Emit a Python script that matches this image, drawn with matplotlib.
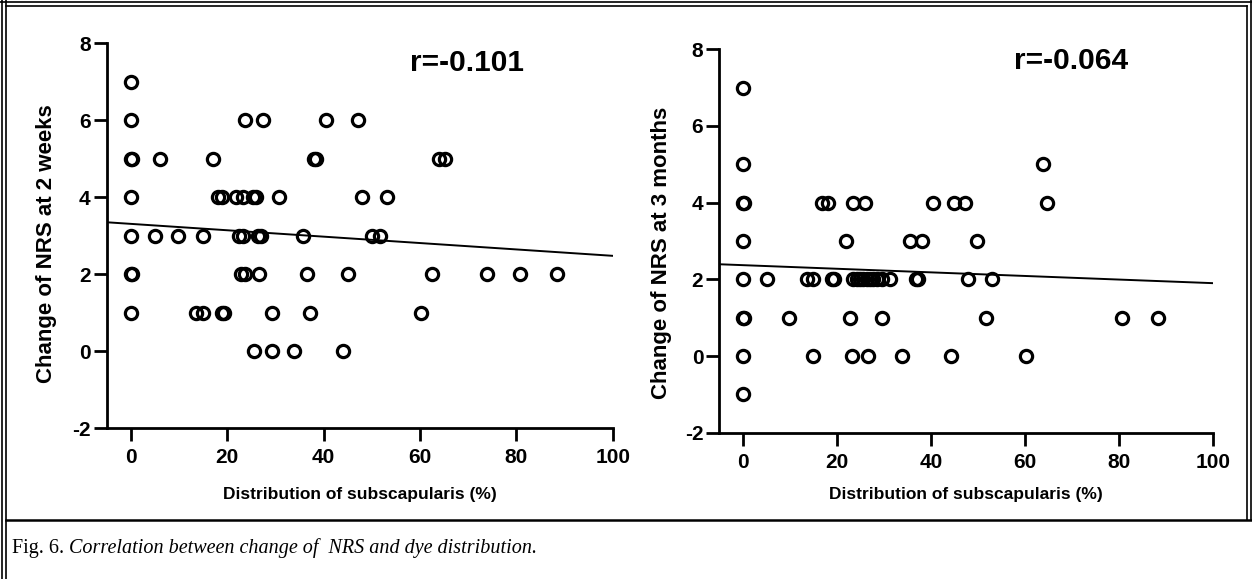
import matplotlib.pyplot as plt
from matplotlib.lines import Line2D

plt.rcParams['font.family'] = ['Liberation Sans', 'DejaVu Sans']
plt.rcParams['axes.unicode_minus'] = False

# panel A: change of NRS at 2 weeks vs distribution (%)
x_2wk = [0,
         0, 23.6, 27.4, 40.5, 47.2,
         0, 0.3, 6.1, 17.0, 38.0, 38.5, 64.0, 65.1,
         0, 18.0, 18.9, 21.8, 23.2, 25.3, 26.0, 30.8, 47.9, 53.1,
         0, 5.1, 9.8, 14.9, 22.4, 23.3, 26.3, 27.0, 35.7, 50.1, 51.8,
         0, 0.3, 22.9, 23.7, 26.7, 36.6, 45.0, 62.4, 73.9, 80.7, 88.5,
         0, 13.5, 14.9, 19.0, 19.4, 29.4, 37.2, 60.3,
         25.6, 29.4, 33.8, 44.1]
y_2wk = [7,
         6, 6, 6, 6, 6,
         5, 5, 5, 5, 5, 5, 5, 5,
         4, 4, 4, 4, 4, 4, 4, 4, 4, 4,
         3, 3, 3, 3, 3, 3, 3, 3, 3, 3, 3,
         2, 2, 2, 2, 2, 2, 2, 2, 2, 2, 2,
         1, 1, 1, 1, 1, 1, 1, 1,
         0, 0, 0, 0]

# panel B: change of NRS at 3 months vs distribution (%)
x_3mo = [0,
         0, 63.9,
         0, 0.3, 16.8, 18.2, 23.4, 26.0, 40.5, 44.9, 47.2, 64.7,
         0, 21.9, 35.6, 38.0, 49.7,
         0, 5.1, 13.6, 15.0, 18.9, 19.4, 23.5, 24.2, 24.9, 25.6, 26.3, 27.0,
         27.7, 28.5, 29.5, 31.2, 36.8, 37.2, 47.8, 53.0,
         0, 0.3, 9.9, 22.7, 29.5, 51.7, 80.5, 88.3,
         0, 15.0, 23.2, 26.7, 33.8, 44.2, 60.2,
         0]
y_3mo = [7,
         5, 5,
         4, 4, 4, 4, 4, 4, 4, 4, 4, 4,
         3, 3, 3, 3, 3,
         2, 2, 2, 2, 2, 2, 2, 2, 2, 2, 2, 2,
         2, 2, 2, 2, 2, 2, 2, 2,
         1, 1, 1, 1, 1, 1, 1, 1,
         0, 0, 0, 0, 0, 0, 0,
         -1]

# fitted lines (intercept, slope)
fit_2wk = (3.31, -0.0083)
fit_3mo = (2.37, -0.0047)

r_labels = ['r=-0.101', 'r=-0.064']
y_labels = ['Change of NRS at 2 weeks', 'Change of NRS at 3 months']
x_label = 'Distribution of subscapularis (%)'

fig = plt.figure(figsize=(12.52, 5.79), dpi=100)
W, H = 1252, 579

def px_axes(x0, x1, ytop, ybot):
    return fig.add_axes([x0 / W, 1 - ybot / H, (x1 - x0) / W, (ybot - ytop) / H])

ax1 = px_axes(106.7, 612.7, 43.3, 428.3)
ax2 = px_axes(719.3, 1213.3, 49.3, 432.7)

panels = [(ax1, x_2wk, y_2wk, fit_2wk), (ax2, x_3mo, y_3mo, fit_3mo)]
for i, (ax, xs, ys, fit) in enumerate(panels):
    ax.plot(xs, ys, 'o', ms=8.8, mfc='none', mec='black', mew=2.3, clip_on=False)
    xl = [-5, 100]
    ax.plot(xl, [fit[0] + fit[1] * v for v in xl], color='black', lw=1.4)
    ax.set_xlim(-5, 100)
    ax.set_ylim(-2, 8)
    ax.set_xticks([0, 20, 40, 60, 80, 100])
    ax.set_yticks([-2, 0, 2, 4, 6, 8])
    for s in ['top', 'right']:
        ax.spines[s].set_visible(False)
    for s in ['left', 'bottom']:
        ax.spines[s].set_linewidth(2.0)
    ax.tick_params(direction='out', length=9.5, width=2.0, labelsize=15, pad=2)
    ax.tick_params(axis='x', pad=5)
    for lab in ax.get_xticklabels() + ax.get_yticklabels():
        lab.set_fontweight('bold')
    ax.set_ylabel(y_labels[i], fontsize=16, fontweight='bold')
    ax.set_xlabel(x_label, fontsize=12.5, fontweight='bold')
    ax.patch.set_visible(False)

ax1.yaxis.set_label_coords(-0.098, 0.48)
ax2.yaxis.set_label_coords(-0.096, 0.47)
ax1.xaxis.set_label_coords(0.5, -0.152)
ax2.xaxis.set_label_coords(0.5, -0.141)

fig.text(467 / W, 1 - 63 / H, r_labels[0], fontsize=21.5, fontweight='bold', ha='center', va='center')
fig.text(1071 / W, 1 - 61 / H, r_labels[1], fontsize=21.5, fontweight='bold', ha='center', va='center')

# page frame and caption rule
def hline(y, x0, x1, lw):
    fig.add_artist(Line2D([x0 / W, x1 / W], [1 - y / H, 1 - y / H], color='black', lw=lw))

def vline(x, y0, y1, lw):
    fig.add_artist(Line2D([x / W, x / W], [1 - y0 / H, 1 - y1 / H], color='black', lw=lw))

vline(1.5, 0, 579, 1.2)
vline(5.5, 0, 579, 1.2)
hline(1.5, 0, 1252, 1.2)
hline(5.5, 5.5, 1247, 1.2)
vline(1250.5, 0, 520, 1.2)
vline(1246.5, 5.5, 520, 1.2)
hline(520, 5.5, 1252, 1.8)

t1 = fig.text(12 / W, 1 - 548 / H, 'Fig. 6. ', family='Liberation Serif', fontsize=14.5, va='center')
fig.canvas.draw()
bb = t1.get_window_extent()
fig.text(bb.x1 / W, 1 - 548 / H, 'Correlation between change of  NRS and dye distribution.',
         family='Liberation Serif', style='italic', fontsize=14.5, va='center')

plt.savefig('out.png', dpi=100)
